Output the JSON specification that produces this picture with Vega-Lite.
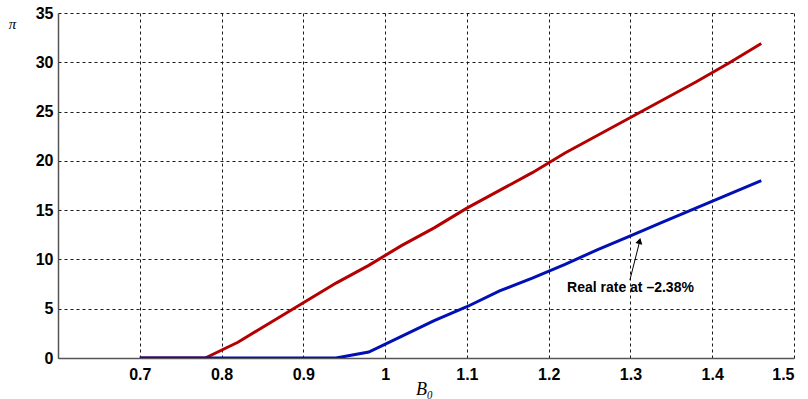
{
  "$schema": "https://vega.github.io/schema/vega-lite/v6.json",
  "width": 736,
  "height": 345,
  "autosize": {"type": "none"},
  "padding": {"left": 58, "top": 13, "right": 14, "bottom": 41},
  "background": "white",
  "config": {
    "view": {"stroke": null},
    "font": "Liberation Sans"
  },
  "datasets": {
    "lines": [
      {"B0": 0.70, "pi": 0, "series": "nominal"},
      {"B0": 0.74, "pi": 0, "series": "nominal"},
      {"B0": 0.78, "pi": 0, "series": "nominal"},
      {"B0": 0.82, "pi": 1.6, "series": "nominal"},
      {"B0": 0.86, "pi": 3.6, "series": "nominal"},
      {"B0": 0.90, "pi": 5.6, "series": "nominal"},
      {"B0": 0.94, "pi": 7.6, "series": "nominal"},
      {"B0": 0.98, "pi": 9.4, "series": "nominal"},
      {"B0": 1.02, "pi": 11.4, "series": "nominal"},
      {"B0": 1.06, "pi": 13.2, "series": "nominal"},
      {"B0": 1.10, "pi": 15.2, "series": "nominal"},
      {"B0": 1.14, "pi": 17.0, "series": "nominal"},
      {"B0": 1.18, "pi": 18.8, "series": "nominal"},
      {"B0": 1.22, "pi": 20.8, "series": "nominal"},
      {"B0": 1.26, "pi": 22.6, "series": "nominal"},
      {"B0": 1.30, "pi": 24.4, "series": "nominal"},
      {"B0": 1.34, "pi": 26.2, "series": "nominal"},
      {"B0": 1.38, "pi": 28.0, "series": "nominal"},
      {"B0": 1.42, "pi": 29.9, "series": "nominal"},
      {"B0": 1.46, "pi": 31.9, "series": "nominal"},
      {"B0": 0.70, "pi": 0, "series": "real"},
      {"B0": 0.74, "pi": 0, "series": "real"},
      {"B0": 0.78, "pi": 0, "series": "real"},
      {"B0": 0.82, "pi": 0, "series": "real"},
      {"B0": 0.86, "pi": 0, "series": "real"},
      {"B0": 0.90, "pi": 0, "series": "real"},
      {"B0": 0.94, "pi": 0, "series": "real"},
      {"B0": 0.98, "pi": 0.6, "series": "real"},
      {"B0": 1.02, "pi": 2.2, "series": "real"},
      {"B0": 1.06, "pi": 3.8, "series": "real"},
      {"B0": 1.10, "pi": 5.2, "series": "real"},
      {"B0": 1.14, "pi": 6.8, "series": "real"},
      {"B0": 1.18, "pi": 8.1, "series": "real"},
      {"B0": 1.22, "pi": 9.5, "series": "real"},
      {"B0": 1.26, "pi": 11.0, "series": "real"},
      {"B0": 1.30, "pi": 12.4, "series": "real"},
      {"B0": 1.34, "pi": 13.8, "series": "real"},
      {"B0": 1.38, "pi": 15.2, "series": "real"},
      {"B0": 1.42, "pi": 16.6, "series": "real"},
      {"B0": 1.46, "pi": 18.0, "series": "real"}
    ],
    "note": [
      {"x": 1.2993, "y": 7.9, "x2": 1.3115, "y2": 11.9, "tx": 1.3112, "ty": 11.87, "lx": 1.300, "ly": 7.1, "label": "Real rate at –2.38%"}
    ]
  },
  "data": {"name": "lines"},
  "layer": [
    {
      "transform": [{"filter": "datum.series === 'nominal'"}],
      "mark": {"type": "line", "color": "#b40000", "strokeWidth": 3, "clip": true},
      "encoding": {
        "x": {
          "field": "B0", "type": "quantitative",
          "scale": {"domain": [0.6, 1.5], "nice": false, "zero": false},
          "axis": {
            "values": [0.7, 0.8, 0.9, 1.0, 1.1, 1.2, 1.3, 1.4, 1.5],
            "format": "~g",
            "title": "B₀",
            "titleFont": "Liberation Serif",
            "titleFontStyle": "italic",
            "titleFontWeight": "normal",
            "titleFontSize": 18,
            "titleX": 366,
            "titleY": 31,
            "titleBaseline": "middle",
            "titleAlign": "center",
            "labelFontSize": 16,
            "labelFontWeight": "bold",
            "labelColor": "black",
            "labelPadding": 8,
            "ticks": false,
            "domainColor": "#555555",
            "domainWidth": 1.5,
            "grid": true,
            "gridColor": "#000000",
            "gridDash": [3, 3],
            "gridWidth": 1,
            "gridOpacity": 0.9
          }
        },
        "y": {
          "field": "pi", "type": "quantitative",
          "scale": {"domain": [0, 35], "nice": false},
          "axis": {
            "values": [0, 5, 10, 15, 20, 25, 30, 35],
            "title": "π",
            "titleFont": "Liberation Serif",
            "titleFontStyle": "italic",
            "titleFontWeight": "normal",
            "titleFontSize": 15,
            "titleAngle": 0,
            "titleX": -46,
            "titleY": 10,
            "titleAlign": "center",
            "titleBaseline": "middle",
            "labelFontSize": 16,
            "labelFontWeight": "bold",
            "labelColor": "black",
            "labelPadding": 5,
            "ticks": false,
            "domainColor": "#555555",
            "domainWidth": 1.5,
            "grid": true,
            "gridColor": "#000000",
            "gridDash": [3, 3],
            "gridWidth": 1,
            "gridOpacity": 0.9
          }
        }
      }
    },
    {
      "transform": [{"filter": "datum.series === 'real'"}],
      "mark": {"type": "line", "color": "#0010b4", "strokeWidth": 3, "clip": true},
      "encoding": {
        "x": {"field": "B0", "type": "quantitative"},
        "y": {"field": "pi", "type": "quantitative"}
      }
    },
    {
      "data": {"name": "note"},
      "mark": {"type": "rule", "color": "black", "strokeWidth": 1},
      "encoding": {
        "x": {"field": "x", "type": "quantitative"},
        "y": {"field": "y", "type": "quantitative"},
        "x2": {"field": "x2"},
        "y2": {"field": "y2"}
      }
    },
    {
      "data": {"name": "note"},
      "mark": {"type": "point", "shape": "triangle-up", "filled": true, "color": "black", "size": 50, "angle": 14, "opacity": 1},
      "encoding": {
        "x": {"field": "tx", "type": "quantitative"},
        "y": {"field": "ty", "type": "quantitative"}
      }
    },
    {
      "data": {"name": "note"},
      "mark": {"type": "text", "fontWeight": "bold", "fontSize": 14, "color": "black", "align": "center", "baseline": "middle"},
      "encoding": {
        "x": {"field": "lx", "type": "quantitative"},
        "y": {"field": "ly", "type": "quantitative"},
        "text": {"field": "label"}
      }
    }
  ]
}
